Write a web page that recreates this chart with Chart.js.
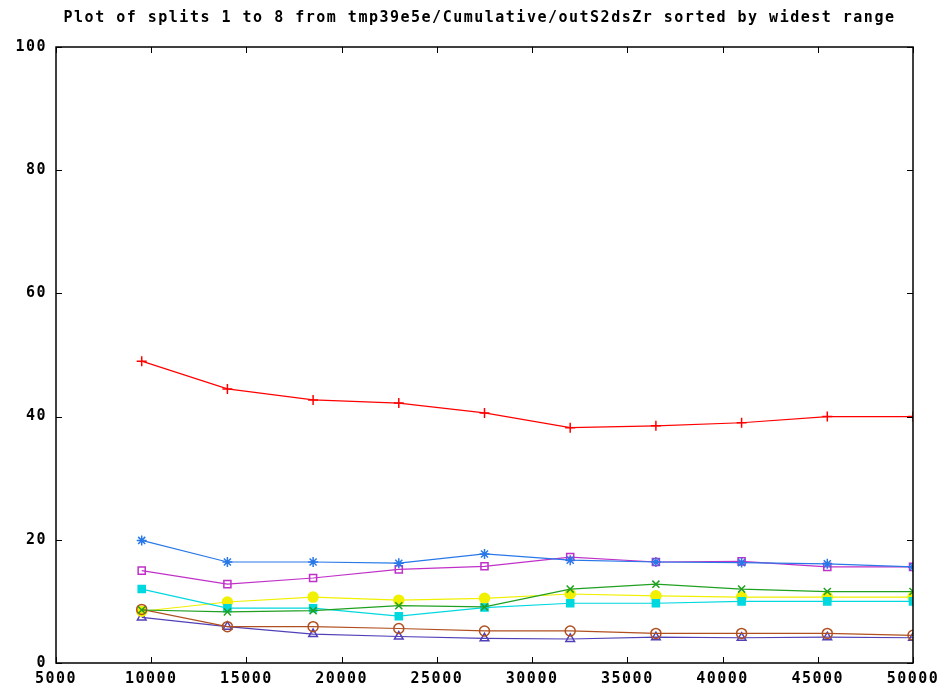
<!DOCTYPE html>
<html>
<head>
<meta charset="utf-8">
<script src="https://cdn.jsdelivr.net/npm/chart.js@4"></script>
<style>
  html, body { margin: 0; padding: 0; background: #fff; }
  #wrap { width: 945px; height: 695px; }
</style>
</head>
<body>
<div id="wrap"><canvas id="chart"></canvas></div>
<script>
let xValues = [9500, 14000, 18500, 23000, 27500, 32000, 36500, 41000, 45500, 50000];

let split1 = [49.0, 44.5, 42.7, 42.2, 40.6, 38.2, 38.5, 39.0, 40.0, 40.0];
let split2 = [8.6, 8.3, 8.5, 9.3, 9.1, 12.0, 12.8, 12.0, 11.6, 11.6];
let split3 = [19.9, 16.4, 16.4, 16.2, 17.7, 16.7, 16.4, 16.3, 16.1, 15.6];
let split4 = [15.0, 12.8, 13.8, 15.2, 15.7, 17.2, 16.4, 16.5, 15.6, 15.6];
let split5 = [12.0, 8.9, 8.9, 7.6, 9.0, 9.7, 9.7, 10.0, 10.0, 10.0];
let split6 = [8.7, 5.9, 5.9, 5.6, 5.2, 5.2, 4.8, 4.8, 4.8, 4.5];
let split7 = [8.4, 9.9, 10.7, 10.2, 10.5, 11.2, 10.9, 10.7, 10.7, 10.7];
let split8 = [7.4, 5.9, 4.7, 4.3, 4.0, 3.9, 4.2, 4.1, 4.2, 4.1];

let xTicks = [5000, 10000, 15000, 20000, 25000, 30000, 35000, 40000, 45000, 50000];
let yTicks = [0, 20, 40, 60, 80, 100];

let titleText = "Plot of splits 1 to 8 from tmp39e5e/Cumulative/outS2dsZr sorted by widest range";

function series(values, color, style, filled) {
  return {
    data: values.map((v, i) => ({ x: xValues[i], y: v })),
    borderColor: color,
    backgroundColor: filled ? color : "rgba(0,0,0,0)",
    pointBorderColor: color,
    pointBackgroundColor: filled ? color : "rgba(0,0,0,0)",
    pointStyle: style,
    pointRadius: 5,
    pointBorderWidth: 1.5,
    borderWidth: 1.2,
    tension: 0,
  };
}

// gnuplot-like text spacing, and title centred a bit right like the original
let spacing = {
  id: "spacing",
  beforeUpdate(chart) { chart.ctx.letterSpacing = "1.5px"; },
  beforeDraw(chart) { chart.ctx.letterSpacing = "1.5px"; },
  afterLayout(chart) {
    let t = chart.titleBlock;
    if (t) { t.left = 46; t.width = t.right - t.left; }
  },
};

// box border with inward ticks on all sides
let frame = {
  id: "frame",
  afterDatasetsDraw(chart) {
    let ctx = chart.ctx;
    let a = chart.chartArea;
    let xs = chart.scales.x;
    let ys = chart.scales.y;
    let len = 6;
    ctx.save();
    ctx.strokeStyle = "#000";
    ctx.lineWidth = 1.5;
    ctx.strokeRect(a.left, a.top, a.right - a.left, a.bottom - a.top);
    ctx.lineWidth = 1;
    ctx.beginPath();
    xTicks.forEach((t) => {
      let px = Math.round(xs.getPixelForValue(t)) + 0.5;
      ctx.moveTo(px, a.bottom);
      ctx.lineTo(px, a.bottom - len);
      ctx.moveTo(px, a.top);
      ctx.lineTo(px, a.top + len);
    });
    yTicks.forEach((t) => {
      let py = Math.round(ys.getPixelForValue(t)) + 0.5;
      ctx.moveTo(a.left, py);
      ctx.lineTo(a.left + len, py);
      ctx.moveTo(a.right, py);
      ctx.lineTo(a.right - len, py);
    });
    ctx.stroke();
    ctx.restore();
  },
};

let font = { family: "'DejaVu Sans Mono', monospace", size: 15, weight: "bold" };

new Chart("chart", {
  type: "line",
  data: {
    datasets: [
      series(split1, "#ff0000", "cross", false),
      series(split2, "#20a020", "crossRot", false),
      series(split3, "#2878e8", "star", false),
      series(split4, "#c030c8", "rect", false),
      series(split5, "#00d8e0", "rect", true),
      series(split6, "#b05020", "circle", false),
      series(split7, "#f0f000", "circle", true),
      series(split8, "#5040b8", "triangle", false),
    ],
  },
  plugins: [spacing, frame],
  options: {
    responsive: true,
    maintainAspectRatio: false,
    animation: false,
    layout: { padding: { left: 0, right: 32, top: 0, bottom: 0 } },
    plugins: {
      legend: { display: false },
      tooltip: { enabled: false },
      title: {
        display: true,
        text: titleText,
        color: "#000",
        font: font,
        padding: { top: 9, bottom: 20 },
      },
    },
    scales: {
      x: {
        type: "linear",
        min: 5000,
        max: 50000,
        afterBuildTicks: (s) => { s.ticks = xTicks.map((v) => ({ value: v })); },
        afterFit: (s) => { s.height = 32; s.paddingLeft = 0; s.paddingRight = 0; },
        grid: { display: false, drawTicks: false },
        border: { display: false },
        ticks: {
          color: "#000", font: font, padding: 7, maxRotation: 0, autoSkip: false,
          callback: (v) => String(v),
        },
      },
      y: {
        min: 0,
        max: 100,
        afterBuildTicks: (s) => { s.ticks = yTicks.map((v) => ({ value: v })); },
        afterFit: (s) => { s.width = 56; s.paddingTop = 0; s.paddingBottom = 0; },
        grid: { display: false, drawTicks: false },
        border: { display: false },
        ticks: { color: "#000", font: font, padding: 9 },
      },
    },
  },
});
</script>
</body>
</html>
